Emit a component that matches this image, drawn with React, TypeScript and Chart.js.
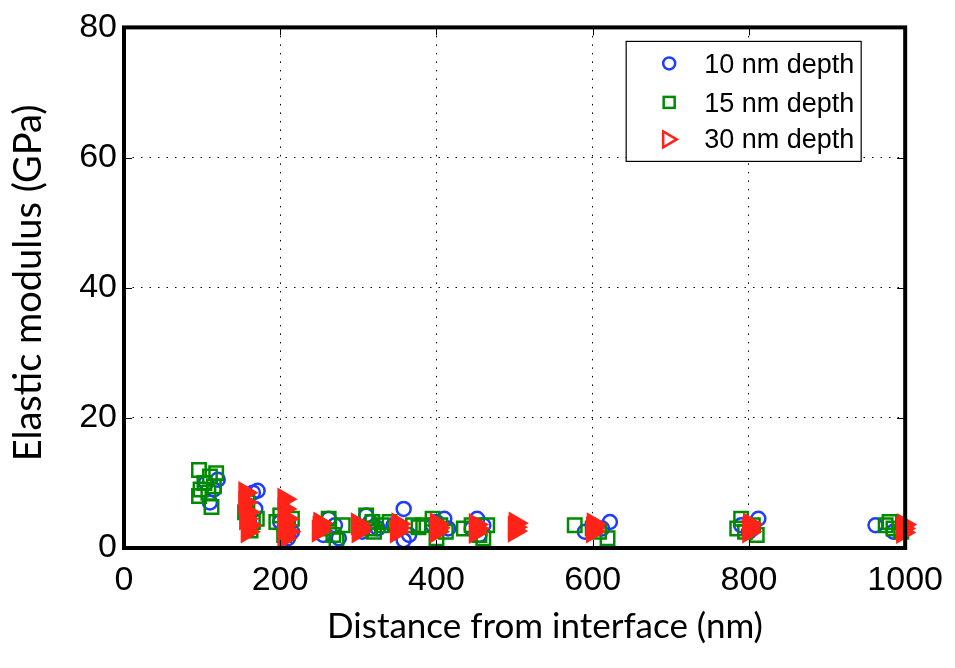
import React, { useEffect, useRef } from 'react';
import { Chart, registerables } from 'chart.js';

Chart.register(...registerables);

const xTicks = [0, 200, 400, 600, 800, 1000];
const yTicks = [0, 20, 40, 60, 80];
const seriesLabels = ['10 nm depth', '15 nm depth', '30 nm depth'];
const xTitle = 'Distance from interface (nm)';
const yTitle = 'Elastic modulus (GPa)';

// [distance (nm), modulus (GPa)]
const depth10: [number, number][] = [
  [105, 10], [110, 7], [115, 9], [120, 10.5],
  [165, 8.5], [171, 8.8], [168, 6], [160, 4],
  [205, 3], [210, 1.5], [215, 2.5], [200, 4],
  [255, 2], [270, 3.5], [275, 1.5], [262, 4.5],
  [305, 2.5], [315, 4], [325, 3], [310, 5],
  [358, 6], [358, 1.2], [365, 2], [345, 3.5],
  [400, 4], [410, 4.5], [395, 3.5], [415, 3],
  [445, 3], [455, 2], [460, 3.5], [452, 4.5],
  [590, 2.5], [600, 3.5], [612, 3], [622, 4],
  [790, 3.5], [800, 2.5], [812, 4.5], [805, 3],
  [962, 3.5], [985, 2.5], [1000, 3],
];

const depth15: [number, number][] = [
  [96, 12], [98, 9], [96, 8], [103, 10], [110, 11], [115, 9.5], [118, 11.5], [108, 8.5], [112, 6.3],
  [155, 5.5], [162, 2.7], [165, 4], [170, 4.5], [158, 7],
  [195, 4], [200, 5], [210, 3], [215, 4.5], [205, 2],
  [255, 3], [262, 4.5], [268, 2], [280, 3.5], [272, 1.2],
  [310, 5], [315, 3], [320, 2.5], [330, 3.5], [318, 4],
  [340, 4], [370, 3.5], [377, 3.2],
  [383, 3.5], [395, 4.5], [405, 3.5], [412, 2.5], [400, 1.5],
  [435, 3], [445, 3.5], [455, 2], [465, 3.5], [460, 1.5],
  [577, 3.5], [600, 3], [619, 1.5], [608, 2.5],
  [785, 3], [795, 2.5], [805, 3.5], [810, 2], [790, 4.5],
  [975, 3.5], [985, 3], [995, 2.5], [980, 4],
];

const depth30: [number, number][] = [
  [155, 8.5], [155, 7], [158, 5.5], [156, 4.5], [160, 3.5], [158, 2.5],
  [205, 7.5], [205, 6], [208, 4.5], [205, 3.5], [210, 2.5], [205, 1.5],
  [249, 2.6], [250, 3.2], [251, 3.8],
  [300, 2.5], [301, 3.1], [299, 3.7],
  [349, 2.5], [350, 3.1], [351, 3.7],
  [400, 2.5], [401, 3.1], [400, 3.7],
  [450, 2.4], [451, 3.0], [450, 3.6],
  [500, 2.6], [500, 3.2], [501, 3.8],
  [600, 2.5], [600, 3.1], [601, 3.7],
  [800, 2.5], [800, 3.1], [801, 3.7],
  [997, 2.4], [997, 3.0], [998, 3.6],
];

const BLUE = '#1f3cff';
const GREEN = '#008a00';
const RED = '#ff2318';
const TICK_FONT = '"Liberation Sans", Arial, sans-serif';
const TITLE_FONT = 'Lato, "Open Sans", sans-serif';

const framePlugin = {
  id: 'frame',
  afterDraw(chart: any) {
    const { ctx, chartArea } = chart;
    const { left, right, top, bottom } = chartArea;
    const xs = chart.scales.x;
    const ys = chart.scales.y;
    ctx.save();
    // inward ticks
    ctx.strokeStyle = '#000';
    ctx.lineWidth = 1;
    ctx.beginPath();
    xTicks.forEach((v) => {
      const px = Math.round(xs.getPixelForValue(v)) + 0.5;
      ctx.moveTo(px, bottom);
      ctx.lineTo(px, bottom - 8);
      ctx.moveTo(px, top);
      ctx.lineTo(px, top + 8);
    });
    yTicks.forEach((v) => {
      const py = Math.round(ys.getPixelForValue(v)) + 0.5;
      ctx.moveTo(left, py);
      ctx.lineTo(left + 8, py);
      ctx.moveTo(right, py);
      ctx.lineTo(right - 8, py);
    });
    ctx.stroke();
    // box
    ctx.lineWidth = 4;
    ctx.strokeRect(left, top, right - left, bottom - top);

    // legend
    const lx = right - 279;
    const ly = top + 14;
    const lw = 235;
    const lh = 120;
    ctx.fillStyle = '#fff';
    ctx.fillRect(lx, ly, lw, lh);
    ctx.lineWidth = 1.2;
    ctx.strokeStyle = '#000';
    ctx.strokeRect(lx, ly, lw, lh);
    const mx = lx + 43;
    const rowsC = [ly + 22, ly + 61, ly + 98];
    const rowsB = [ly + 32, ly + 71, ly + 107];
    // circle
    ctx.lineWidth = 2.5;
    ctx.strokeStyle = BLUE;
    ctx.beginPath();
    ctx.arc(mx, rowsC[0], 6, 0, Math.PI * 2);
    ctx.stroke();
    // square
    ctx.strokeStyle = GREEN;
    ctx.strokeRect(mx - 5.5, rowsC[1] - 5.5, 11, 11);
    // triangle
    ctx.strokeStyle = RED;
    ctx.beginPath();
    const r = 10;
    ctx.moveTo(mx + r * 0.75, rowsC[2]);
    ctx.lineTo(mx - r * 0.6, rowsC[2] - r * 0.8);
    ctx.lineTo(mx - r * 0.6, rowsC[2] + r * 0.8);
    ctx.closePath();
    ctx.stroke();
    ctx.fillStyle = '#000';
    ctx.font = '27px ' + TICK_FONT;
    ctx.textAlign = 'left';
    ctx.textBaseline = 'alphabetic';
    seriesLabels.forEach((t, i) => ctx.fillText(t, lx + 78, rowsB[i]));

    // axis titles
    ctx.font = '35px ' + TITLE_FONT;
    ctx.textAlign = 'center';
    ctx.fillText(xTitle, 545, 638);
    ctx.save();
    ctx.font = '38px ' + TITLE_FONT;
    ctx.translate(41, 283);
    ctx.rotate(-Math.PI / 2);
    ctx.fillText(yTitle, 0, 0);
    ctx.restore();
    ctx.restore();
  },
};

export default function App() {
  const ref = useRef<HTMLCanvasElement>(null);
  useEffect(() => {
    if (!ref.current) return;
    const pts = (a: [number, number][]) => a.map(([x, y]) => ({ x, y }));
    const chart = new Chart(ref.current, {
      type: 'scatter',
      data: {
        datasets: [
          {
            label: seriesLabels[0],
            data: pts(depth10),
            pointStyle: 'circle',
            pointRadius: 7,
            pointBorderWidth: 2.5,
            pointBorderColor: BLUE,
            pointBackgroundColor: 'rgba(0,0,0,0)',
            order: 3,
          },
          {
            label: seriesLabels[1],
            data: pts(depth15),
            pointStyle: 'rect',
            pointRadius: 9.5,
            pointBorderWidth: 2.5,
            pointBorderColor: GREEN,
            pointBackgroundColor: 'rgba(0,0,0,0)',
            order: 2,
          },
          {
            label: seriesLabels[2],
            data: pts(depth30),
            pointStyle: 'triangle',
            pointRotation: 90,
            pointRadius: 11,
            pointBorderWidth: 2.5,
            pointBorderColor: RED,
            pointBackgroundColor: RED,
            order: 1,
          },
        ],
      } as any,
      options: {
        animation: false,
        responsive: false,
        clip: false as any,
        layout: { padding: { top: 24, right: 44, left: 0, bottom: 0 } },
        plugins: { legend: { display: false }, tooltip: { enabled: false } },
        scales: {
          x: {
            type: 'linear',
            min: 0,
            max: 1000,
            afterBuildTicks: (s: any) => { s.ticks = xTicks.map((v) => ({ value: v })); },
            afterFit: (s: any) => { s.height = 120; },
            ticks: {
              color: '#000',
              font: { size: 34, family: TICK_FONT },
              padding: 12,
              maxRotation: 0,
              callback: (v: any) => String(v),
            },
            grid: { color: '#000', lineWidth: 1, drawTicks: false },
            border: { display: false, dash: [1.5, 7] },
          },
          y: {
            type: 'linear',
            min: 0,
            max: 80,
            afterBuildTicks: (s: any) => { s.ticks = yTicks.map((v) => ({ value: v })); },
            afterFit: (s: any) => { s.width = 124; },
            ticks: {
              color: '#000',
              font: { size: 34, family: TICK_FONT },
              padding: 7,
              callback: (v: any) => String(v),
            },
            grid: { color: '#000', lineWidth: 1, drawTicks: false },
            border: { display: false, dash: [1.5, 7] },
          },
        },
      } as any,
      plugins: [framePlugin],
    });
    return () => chart.destroy();
  }, []);
  return (
    <div style={{ position: 'absolute', left: 0, top: 0, width: 955, height: 668, background: '#fff' }}>
      <canvas ref={ref} width={955} height={668} style={{ width: 955, height: 668 }} />
    </div>
  );
}
